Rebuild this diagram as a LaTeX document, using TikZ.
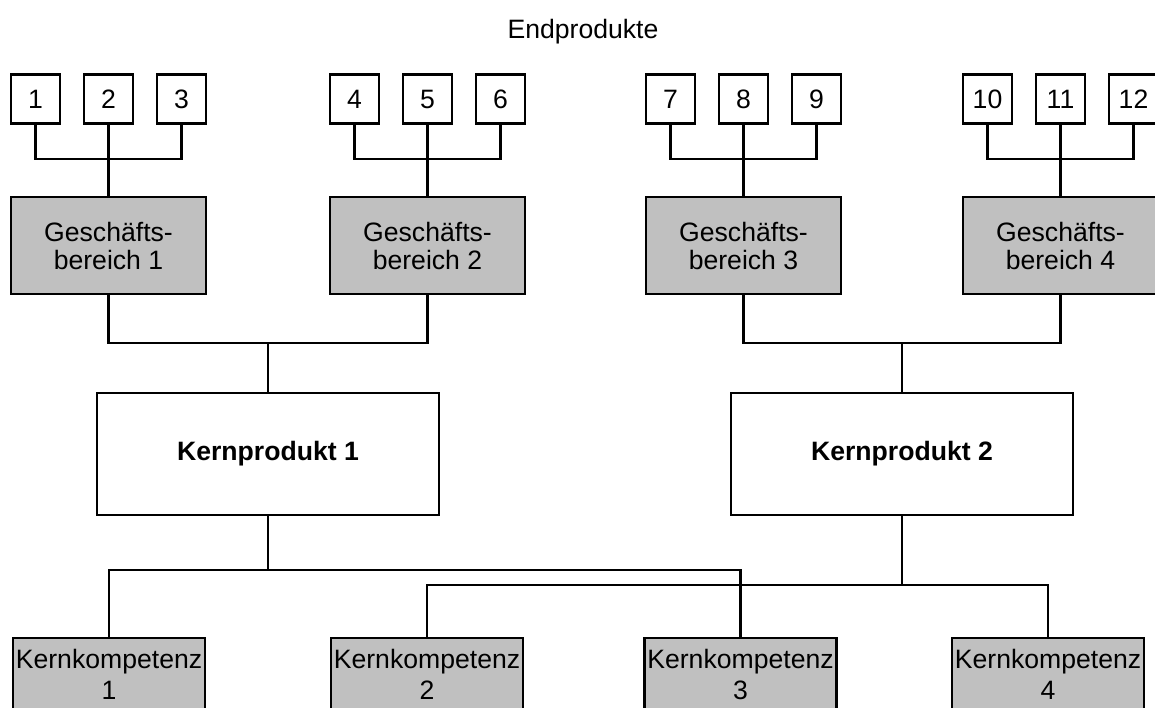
\documentclass[tikz,border=0pt]{standalone}
\usepackage{fontspec}
\setmainfont{Liberation Sans}
\definecolor{boxgray}{RGB}{192,192,192}

\begin{document}
\begin{tikzpicture}[x=0.5pt,y=-0.5pt,
   line width=1.1pt,
   every node/.style={font=\fontsize{13.3pt}{14pt}\selectfont},
   endbox/.style={draw,minimum width=24.5pt,minimum height=24.5pt,inner sep=0pt,
                  text height=9.5pt,text depth=0pt},
   gbbox/.style={draw,fill=boxgray,align=center,minimum width=97.5pt,minimum height=48.5pt},
   kpbox/.style={draw,minimum width=171pt,minimum height=61pt,font=\fontsize{13.3pt}{14pt}\selectfont\bfseries},
   kkbox/.style={draw,fill=boxgray,anchor=north,text width=96pt,align=center,
                 font=\fontsize{13.3pt}{15.5pt}\selectfont,
                 text height=10pt,text depth=60pt,inner xsep=0pt,inner ysep=5pt}]

\clip (0,0) rectangle (1155,707);

\node (titel) at (583,32) {Endprodukte};

\node[endbox] (e1) at (35.5,99) {1};
\node[endbox] (e2) at (108.5,99) {2};
\node[endbox] (e3) at (181.5,99) {3};
\node[endbox] (e4) at (354.5,99) {4};
\node[endbox] (e5) at (427.5,99) {5};
\node[endbox] (e6) at (500.5,99) {6};
\node[endbox] (e7) at (670.5,99) {7};
\node[endbox] (e8) at (743.5,99) {8};
\node[endbox] (e9) at (816.5,99) {9};
\node[endbox] (e10) at (987.5,99) {10};
\node[endbox] (e11) at (1060.5,99) {11};
\node[endbox] (e12) at (1133.5,99) {12};

\node[gbbox] (gb1) at (108.5,245.5) {Geschäfts-\\bereich 1};
\node[gbbox] (gb2) at (427.5,245.5) {Geschäfts-\\bereich 2};
\node[gbbox] (gb3) at (743.5,245.5) {Geschäfts-\\bereich 3};
\node[gbbox] (gb4) at (1060.5,245.5) {Geschäfts-\\bereich 4};

\node[kpbox] (kp1) at (268,454) {Kernprodukt 1};
\node[kpbox] (kp2) at (902,454) {Kernprodukt 2};

\node[kkbox] (kk1) at (109,637) {Kernkompetenz\\1};
\node[kkbox] (kk2) at (427,637) {Kernkompetenz\\2};
\node[kkbox] (kk3) at (740.5,637) {Kernkompetenz\\3};
\node[kkbox] (kk4) at (1048,637) {Kernkompetenz\\4};

\coordinate (t1) at (108.5,159);
\coordinate (t2) at (427.5,159);
\coordinate (t3) at (743.5,159);
\coordinate (t4) at (1060.5,159);
\coordinate (m1) at (268,343);
\coordinate (m2) at (902,343);

\draw (e1.south) |- (t1) -| (e3.south);
\draw (e2.south) -- (gb1.north);
\draw (e4.south) |- (t2) -| (e6.south);
\draw (e5.south) -- (gb2.north);
\draw (e7.south) |- (t3) -| (e9.south);
\draw (e8.south) -- (gb3.north);
\draw (e10.south) |- (t4) -| (e12.south);
\draw (e11.south) -- (gb4.north);

\draw (gb1.south) |- (m1) -| (gb2.south);
\draw (m1) -- (kp1.north);
\draw (gb3.south) |- (m2) -| (gb4.south);
\draw (m2) -- (kp2.north);

\draw (kp1.south) -- ++(0,54) coordinate (b1);
\draw (kk1.north) |- (b1) -| (kk3.north);
\draw (kp2.south) -- ++(0,69) coordinate (b2);
\draw (kk2.north) |- (b2) -| (kk4.north);

\end{tikzpicture}
\end{document}
